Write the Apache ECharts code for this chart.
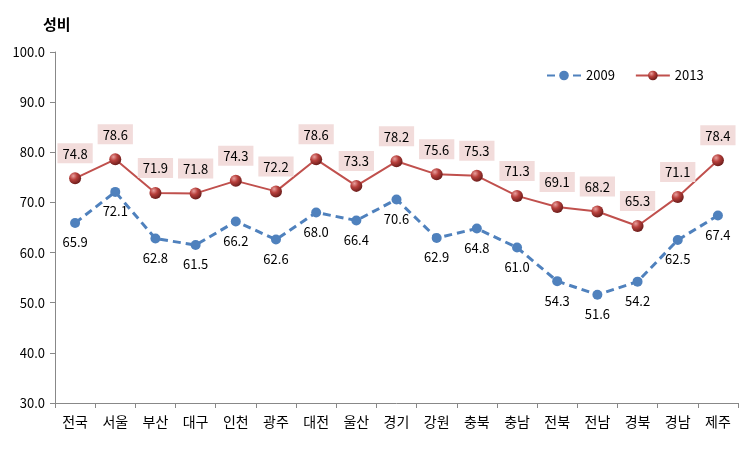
<!DOCTYPE html>
<html><head><meta charset="utf-8">
<script src="https://cdn.jsdelivr.net/npm/echarts@6/dist/echarts.min.js"></script>
<style>html,body{margin:0;padding:0;background:#fff}#c{width:748px;height:451px}</style>
</head><body><div id="c"></div>
<script>
const categories = ['전국','서울','부산','대구','인천','광주','대전','울산','경기','강원','충북','충남','전북','전남','경북','경남','제주'];
const values2009 = [65.9,72.1,62.8,61.5,66.2,62.6,68.0,66.4,70.6,62.9,64.8,61.0,54.3,51.6,54.2,62.5,67.4];
const values2013 = [74.8,78.6,71.9,71.8,74.3,72.2,78.6,73.3,78.2,75.6,75.3,71.3,69.1,68.2,65.3,71.1,78.4];
const yTicks = {min:30, max:100, interval:10};
const font = '"Noto Sans CJK KR", "Noto Sans", sans-serif';

const chart = echarts.init(document.getElementById('c'));
const sphere = new echarts.graphic.RadialGradient(0.35,0.3,0.7,[
  {offset:0,color:'#e8a09e'},{offset:0.45,color:'#b8403c'},{offset:1,color:'#6e1e1c'}]);
chart.setOption({
  animation:false,
  textStyle:{fontFamily:font},
  title:{text:'성비',left:38,top:12,textStyle:{fontFamily:font,fontSize:15,fontWeight:'bold',color:'#000'}},
  legend:{top:64,left:541,itemGap:20,itemWidth:34,itemHeight:12,
    textStyle:{fontFamily:font,fontSize:13,color:'#000'},
    data:[{name:'2009'},{name:'2013'}]},
  grid:{left:55,right:10,top:52,bottom:48,containLabel:false},
  xAxis:{type:'category',data:categories,boundaryGap:true,
    axisLine:{lineStyle:{color:'#888'}},
    axisTick:{show:true,length:5,lineStyle:{color:'#888'}},
    axisLabel:{fontFamily:font,fontSize:14,color:'#000',margin:12,interval:0}},
  yAxis:{type:'value',min:yTicks.min,max:yTicks.max,interval:yTicks.interval,
    axisLine:{show:true,lineStyle:{color:'#888'}},
    axisTick:{show:true,length:5,lineStyle:{color:'#888'}},
    splitLine:{show:false},
    axisLabel:{fontFamily:font,fontSize:13,color:'#000',margin:10,formatter:v=>v.toFixed(1)}},
  series:[
    {name:'2009',type:'line',data:values2009,symbol:'circle',symbolSize:10,
      lineStyle:{color:'#4F81BD',width:3,type:[8,5]},
      itemStyle:{color:'#4F81BD'},
      label:{show:true,position:'bottom',distance:8,fontFamily:font,fontSize:13,color:'#000',formatter:p=>p.value.toFixed(1)}},
    {name:'2013',type:'line',data:values2013,symbol:'circle',symbolSize:12,
      lineStyle:{color:'#C0504D',width:2},
      itemStyle:{color:sphere},
      label:{show:true,position:'top',distance:9,fontFamily:font,fontSize:13,color:'#000',
        backgroundColor:'#F2DCDB',padding:[4,5,3,5],formatter:p=>p.value.toFixed(1)}}
  ]
});
</script></body></html>
